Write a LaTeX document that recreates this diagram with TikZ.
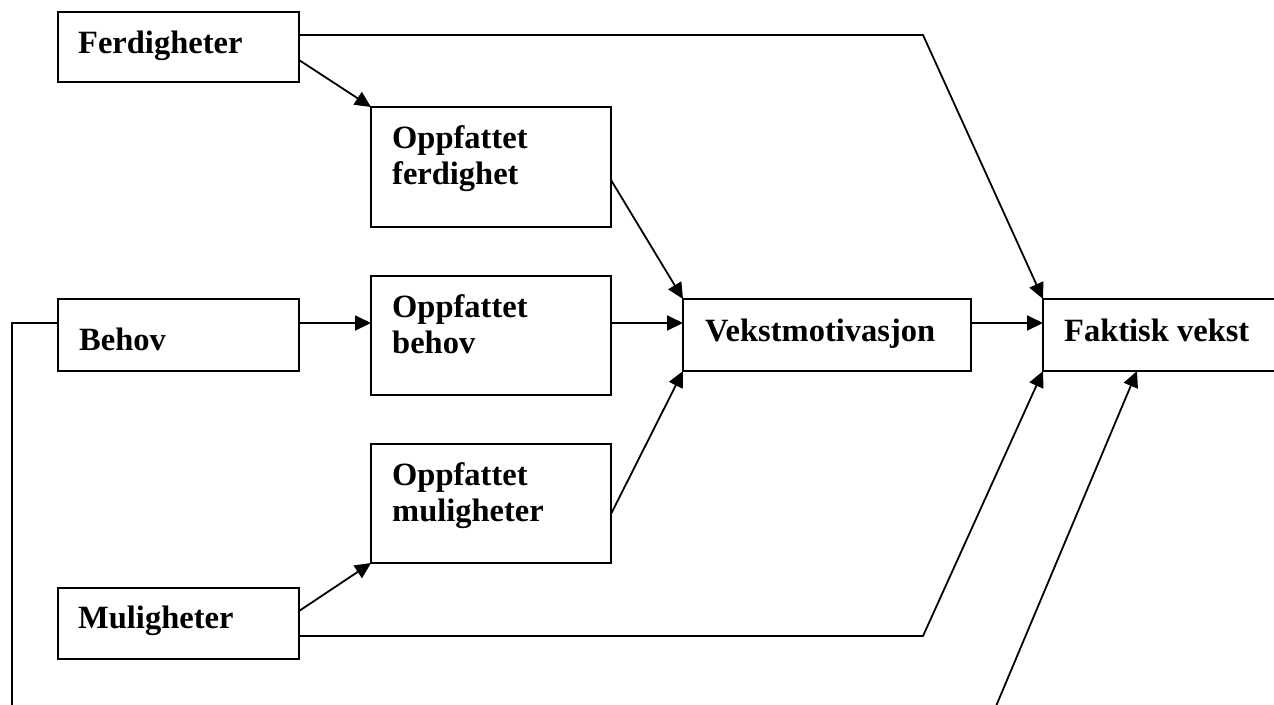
\documentclass[tikz,border=0pt]{standalone}
\usepackage{fontspec}
\setmainfont{Liberation Serif}
\usetikzlibrary{arrows.meta}
\begin{document}
\begin{tikzpicture}[x=1pt,y=-1pt,
  box/.style={draw, line width=2pt, anchor=north west, inner sep=0pt, outer sep=0pt},
  lbl/.style={anchor=base west, inner sep=0pt, align=left,
    font=\fontsize{32.5}{36}\selectfont\bfseries},
  link/.style={line width=1.8pt},
  arr/.style={link, -{Triangle[length=16pt,width=15pt]}}]
\useasboundingbox (0,0) rectangle (1274,704);
\clip (0,0) rectangle (1274,704);

% boxes
\node[box, minimum width=241pt, minimum height=70pt]  (ferd)   at (58,12)   {};
\node[box, minimum width=240pt, minimum height=120pt] (oferd)  at (371,107) {};
\node[box, minimum width=241pt, minimum height=72pt]  (behov)  at (58,299)  {};
\node[box, minimum width=240pt, minimum height=119pt] (obehov) at (371,276) {};
\node[box, minimum width=288pt, minimum height=72pt]  (vekst)  at (683,299) {};
\node[box, minimum width=260pt, minimum height=72pt]  (fakt)   at (1043,299) {};
\node[box, minimum width=240pt, minimum height=119pt] (omul)   at (371,444) {};
\node[box, minimum width=241pt, minimum height=71pt]  (mul)    at (58,588)  {};

% box texts (two-line labels sit on the baseline of their last line)
\node[lbl] (ferdT)   at (78,53)   {Ferdigheter};
\node[lbl] (oferdT)  at (392,184) {Oppfattet\\ferdighet};
\node[lbl] (behovT)  at (79,350)  {Behov};
\node[lbl] (obehovT) at (392,353) {Oppfattet\\behov};
\node[lbl] (vekstT)  at (705,341) {Vekstmotivasjon};
\node[lbl] (faktT)   at (1064,341) {Faktisk vekst};
\node[lbl] (omulT)   at (392,521) {Oppfattet\\muligheter};
\node[lbl] (mulT)    at (78,628)  {Muligheter};

% bends of the long connectors
\coordinate (topbend) at (923,35);
\coordinate (botbend) at (923,636);
\coordinate (loopA) at (12,323);
\coordinate (loopB) at (12,730);
\coordinate (loopC) at (986,730);

% connectors
\draw[arr] ([yshift=12pt]ferd.east) -- (topbend) -- (fakt.north west);
\draw[arr] ([yshift=-13pt]ferd.east) -- (oferd.north west);
\draw[arr] ([yshift=-13pt]oferd.east) -- (vekst.north west);
\draw[arr] ([yshift=12pt]behov.east) -- ([yshift=12pt]behov.east -| obehov.west);
\draw[arr] ([yshift=12pt]obehov.east |- vekst.east) -- ([yshift=12pt]vekst.west);
\draw[arr] ([yshift=-10.5pt]omul.east) -- (vekst.south west);
\draw[arr] ([yshift=12pt]vekst.east) -- ([yshift=12pt]fakt.west);
\draw[arr] ([yshift=12.5pt]mul.east) -- (omul.south west);
\draw[arr] ([yshift=-12.5pt]mul.east) -- (botbend) -- (fakt.south west);
\draw[arr] ([yshift=12pt]behov.west) -- (loopA) -- (loopB) -- (loopC)
  -- ([xshift=94pt]fakt.south west);
\end{tikzpicture}
\end{document}
